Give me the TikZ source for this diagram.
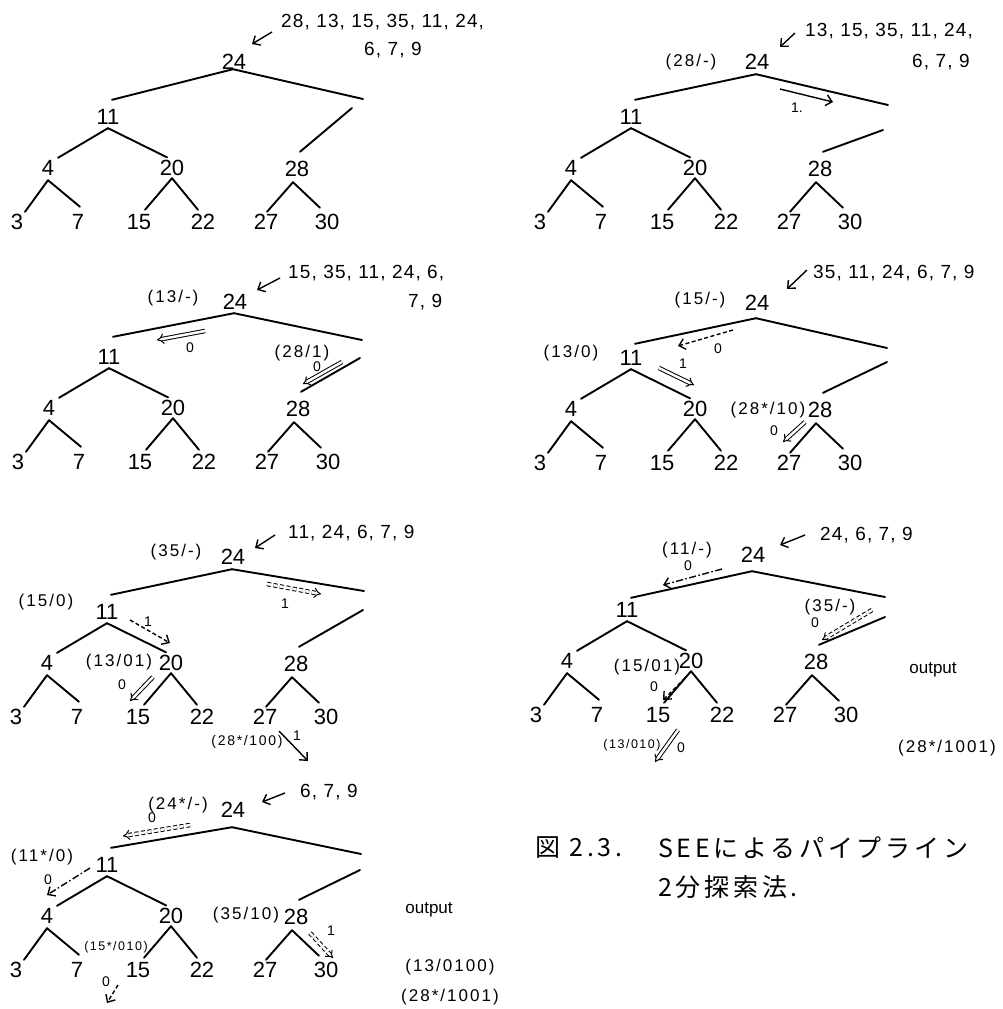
\documentclass[tikz,border=0pt]{standalone}
\usepackage{fontspec}
\setmainfont{Liberation Sans}
\newfontfamily\annf{Liberation Sans}[LetterSpace=12]
\newfontfamily\lstf{Liberation Sans}[LetterSpace=6]
\newfontfamily\cjkf{Noto Sans CJK JP}[LetterSpace=15]
\usetikzlibrary{arrows.meta}

\tikzset{
  num/.style={font=\fontsize{22}{22}\selectfont, inner sep=0pt, text height=15pt, text depth=0pt},
  edge/.style={line width=1.9pt, line cap=round},
  lst/.style={font=\lstf\fontsize{19}{19}\selectfont, inner sep=0pt, anchor=west},
  ann/.style={font=\annf\fontsize{17}{17}\selectfont, inner sep=0pt},
  annm/.style={font=\annf\fontsize{14}{14}\selectfont, inner sep=0pt},
  anns/.style={font=\annf\fontsize{12.5}{12.5}\selectfont, inner sep=0pt},
  outtext/.style={font=\fontsize{17}{17}\selectfont, inner sep=0pt},
  lab/.style={font=\fontsize{14}{14}\selectfont, inner sep=0pt},
  sarr/.style={line width=1.4pt, -{Straight Barb[length=6pt,width=11pt]}},
  darr/.style={double, double distance=2.5pt, line width=1pt, -{Implies}},
  dsh/.style={dash pattern=on 4pt off 2.5pt},
  dshd/.style={dash pattern=on 7pt off 2.5pt on 1.5pt off 2.5pt},
  captext/.style={font=\cjkf\fontsize{25}{25}\selectfont, inner sep=0pt, anchor=west}
}

% #1 prefix, #2/#3 root position, #4 gap below root, #5 left end y,
% #6 right end (x,y), #7 right sub-line start (x,y)
\newcommand{\bintree}[7]{%
\begin{scope}[shift={(#2,#3)}]
\node[num] (#1-24) at (0,0) {24};
\node[num] (#1-11) at (-126,55) {11};
\node[num] (#1-28) at (63,107) {28};
\node[num] (#1-4) at (-186,106) {4};
\node[num] (#1-20) at (-62,106) {20};
\node[num] (#1-3) at (-217,160) {3};
\node[num] (#1-7) at (-156,160) {7};
\node[num] (#1-15) at (-95,160) {15};
\node[num] (#1-22) at (-31,160) {22};
\node[num] (#1-27) at (32,160) {27};
\node[num] (#1-30) at (93,160) {30};
\coordinate (#1-p1) at (#6);
\coordinate (#1-p2) at (#7);
\draw[edge] ([shift={(-1,#4-7.5)}]#1-24.south) -- ([shift={(4,#5-47.5)}]#1-11.north);
\draw[edge] ([shift={(-1,#4-7.5)}]#1-24.south) -- (#1-p1);
\draw[edge] (#1-p2) -- ([shift={(3,-9.5)}]#1-28.north);
\draw[edge] ([shift={(0,3.5)}]#1-11.south) -- ([shift={(10,-2.5)}]#1-4.north);
\draw[edge] ([shift={(0,3.5)}]#1-11.south) -- ([shift={(-5,-3)}]#1-20.north);
\draw[edge] ([shift={(0,4.5)}]#1-4.south) -- ([shift={(8,-2.5)}]#1-3.north);
\draw[edge] ([shift={(0,4.5)}]#1-4.south) -- ([shift={(2,-7.5)}]#1-7.north);
\draw[edge] ([shift={(0,2.5)}]#1-20.south) -- ([shift={(6,-4.5)}]#1-15.north);
\draw[edge] ([shift={(0,2.5)}]#1-20.south) -- ([shift={(-5,-4.5)}]#1-22.north);
\draw[edge] ([shift={(-4,5.5)}]#1-28.south) -- ([shift={(1,-2.5)}]#1-27.north);
\draw[edge] ([shift={(-4,5.5)}]#1-28.south) -- ([shift={(-7,-6.5)}]#1-30.north);
\end{scope}}

\begin{document}
\begin{tikzpicture}[x=1pt,y=-1pt]
\fill[white] (0,0) rectangle (1003,1009);
\useasboundingbox (0,0) rectangle (1003,1009);

% ---------------- Tree 1 ----------------
\bintree{ta}{234}{62}{7}{38}{129,37}{118,46}
\node[lst] (ta-in1) at (281,22) {28, 13, 15, 35, 11, 24,};
\node[lst] (ta-in2) at (364,50) {6, 7, 9};
\coordinate (ta-a1) at (272,32);
\coordinate (ta-a2) at (252,44);
\draw[sarr] (ta-a1) -- (ta-a2);

% ---------------- Tree 2 ----------------
\bintree{tb}{757}{62}{12}{38}{131,43}{126,68}
\node[lst] (tb-in1) at (805,31) {13, 15, 35, 11, 24,};
\node[lst] (tb-in2) at (912,62) {6, 7, 9};
\coordinate (tb-a1) at (795,33);
\coordinate (tb-a2) at (780,47);
\draw[sarr] (tb-a1) -- (tb-a2);
\node[ann] (tb-l1) at (691,62) {(28/-)};
\coordinate (tb-b1) at (780,89);
\coordinate (tb-b2) at (833,102);
\draw[sarr] (tb-b1) -- (tb-b2);
\node[lab] (tb-l2) at (797,108) {1.};

% ---------------- Tree 3 ----------------
\bintree{tc}{235}{302}{11}{35}{127,38}{125,56}
\node[lst] (tc-in1) at (288,273) {15, 35, 11, 24, 6,};
\node[lst] (tc-in2) at (408,302) {7, 9};
\coordinate (tc-a1) at (280,278);
\coordinate (tc-a2) at (257,290);
\draw[sarr] (tc-a1) -- (tc-a2);
\node[ann] (tc-l1) at (173,298) {(13/-)};
\coordinate (tc-b1) at (205,331);
\coordinate (tc-b2) at (157,340);
\draw[darr] (tc-b1) -- (tc-b2);
\node[lab] (tc-l2) at (190,348) {0};
\node[ann] (tc-l3) at (302,353) {(28/1)};
\coordinate (tc-c1) at (342,362);
\coordinate (tc-c2) at (303,384);
\draw[darr] (tc-c1) -- (tc-c2);
\node[lab] (tc-l4) at (317,367) {0};

% ---------------- Tree 4 ----------------
\bintree{td}{757}{303}{15}{41}{130,45}{130,59}
\node[lst] (td-in1) at (813,273) {35, 11, 24, 6, 7, 9};
\coordinate (td-a1) at (807,270);
\coordinate (td-a2) at (787,289);
\draw[sarr] (td-a1) -- (td-a2);
\node[ann] (td-l1) at (700,300) {(15/-)};
\coordinate (td-b1) at (733,330);
\coordinate (td-b2) at (678,346);
\draw[sarr,dsh] (td-b1) -- (td-b2);
\node[lab] (td-l2) at (718,349) {0};
\node[ann] (td-l3) at (571,353) {(13/0)};
\coordinate (td-c1) at (659,368);
\coordinate (td-c2) at (694,385);
\draw[darr] (td-c1) -- (td-c2);
\node[lab] (td-l4) at (683,364) {1};
\node[ann] (td-l5) at (768,410) {(28*/10)};
\coordinate (td-d1) at (805,422);
\coordinate (td-d2) at (783,442);
\draw[darr] (td-d1) -- (td-d2);
\node[lab] (td-l6) at (774,431) {0};

% ---------------- Tree 5 ----------------
\bintree{te}{233}{557}{12}{38}{131,34}{130,53}
\node[lst] (te-in1) at (288,533) {11, 24, 6, 7, 9};
\coordinate (te-a1) at (275,535);
\coordinate (te-a2) at (255,548);
\draw[sarr] (te-a1) -- (te-a2);
\node[ann] (te-l1) at (176,552) {(35/-)};
\coordinate (te-b1) at (267,584);
\coordinate (te-b2) at (321,594);
\draw[darr,dsh] (te-b1) -- (te-b2);
\node[lab] (te-l2) at (285,604) {1};
\node[ann] (te-l3) at (46,602) {(15/0)};
\coordinate (te-c1) at (130,620);
\coordinate (te-c2) at (170,643);
\draw[sarr,dsh] (te-c1) -- (te-c2);
\node[lab] (te-l4) at (148,622) {1};
\node[ann] (te-l5) at (119,662) {(13/01)};
\coordinate (te-d1) at (153,677);
\coordinate (te-d2) at (130,701);
\draw[darr] (te-d1) -- (te-d2);
\node[lab] (te-l6) at (122,685) {0};
\node[annm] (te-l7) at (247,742) {(28*/100)};
\coordinate (te-e1) at (279,731);
\coordinate (te-e2) at (308,761);
\draw[sarr] (te-e1) -- (te-e2);
\node[lab] (te-l8) at (297,736) {1};

% ---------------- Tree 6 ----------------
\bintree{tf}{753}{555}{16}{43}{132,42}{132,62}
\node[lst] (tf-in1) at (820,535) {24, 6, 7, 9};
\coordinate (tf-a1) at (805,535);
\coordinate (tf-a2) at (780,545);
\draw[sarr] (tf-a1) -- (tf-a2);
\node[ann] (tf-l1) at (687,550) {(11/-)};
\coordinate (tf-b1) at (722,569);
\coordinate (tf-b2) at (663,585);
\draw[sarr,dshd] (tf-b1) -- (tf-b2);
\node[lab] (tf-l2) at (688,566) {0};
\node[ann] (tf-l3) at (830,607) {(35/-)};
\coordinate (tf-c1) at (872,610);
\coordinate (tf-c2) at (822,640);
\draw[darr,dsh] (tf-c1) -- (tf-c2);
\node[lab] (tf-l4) at (815,623) {0};
\node[outtext] (tf-l5) at (933,670) {output};
\node[ann] (tf-l6) at (647,667) {(15/01)};
\coordinate (tf-d1) at (685,678);
\coordinate (tf-d2) at (663,700);
\draw[sarr,dsh] (tf-d1) -- (tf-d2);
\node[lab] (tf-l7) at (654,687) {0};
\node[anns] (tf-l8) at (632,745) {(13/010)};
\coordinate (tf-e1) at (678,730);
\coordinate (tf-e2) at (655,762);
\draw[darr] (tf-e1) -- (tf-e2);
\node[lab] (tf-l9) at (681,748) {0};
\node[ann] (tf-l10) at (947,748) {(28*/1001)};

% ---------------- Tree 7 ----------------
\bintree{tg}{233}{810}{17}{38}{128,44}{127,60}
\node[lst] (tg-in1) at (300,792) {6, 7, 9};
\coordinate (tg-a1) at (285,793);
\coordinate (tg-a2) at (262,802);
\draw[sarr] (tg-a1) -- (tg-a2);
\node[ann] (tg-l1) at (178,805) {(24*/-)};
\coordinate (tg-b1) at (190,825);
\coordinate (tg-b2) at (123,836);
\draw[darr,dsh] (tg-b1) -- (tg-b2);
\node[lab] (tg-l2) at (152,818) {0};
\node[ann] (tg-l3) at (42,857) {(11*/0)};
\coordinate (tg-c1) at (90,868);
\coordinate (tg-c2) at (47,895);
\draw[sarr,dshd] (tg-c1) -- (tg-c2);
\node[lab] (tg-l4) at (48,880) {0};
\node[ann] (tg-l5) at (246,915) {(35/10)};
\coordinate (tg-d1) at (310,933);
\coordinate (tg-d2) at (333,958);
\draw[darr,dsh] (tg-d1) -- (tg-d2);
\node[lab] (tg-l6) at (331,931) {1};
\node[outtext] (tg-l7) at (429,910) {output};
\node[anns] (tg-l8) at (116,947) {(15*/010)};
\coordinate (tg-e1) at (118,985);
\coordinate (tg-e2) at (107,1003);
\draw[sarr,dsh] (tg-e1) -- (tg-e2);
\node[lab] (tg-l9) at (106,982) {0};
\node[ann] (tg-l10) at (450,967) {(13/0100)};
\node[ann] (tg-l11) at (450,997) {(28*/1001)};

% ---------------- Caption ----------------
\node[captext] (cp1) at (535,848) {図 2.3.};
\node[captext] (cp2) at (658,848) {SEEによるパイプライン};
\node[captext] (cp3) at (658,887) {2分探索法.};
\end{tikzpicture}
\end{document}
